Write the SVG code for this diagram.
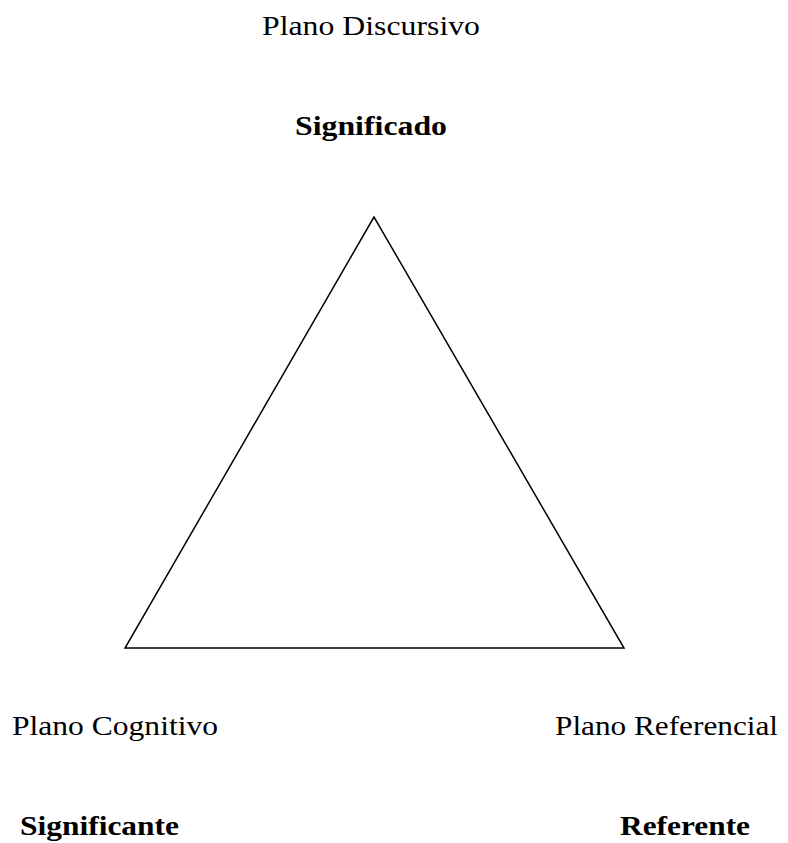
<svg xmlns="http://www.w3.org/2000/svg" width="788" height="843" viewBox="0 0 788 843">
<style>
.t{font-family:"Liberation Serif","Times New Roman",serif;font-size:28px;fill:#000}
.b{font-weight:bold}
.edge{fill:none;stroke:#000;stroke-width:1.5;stroke-linejoin:miter}
</style>
<rect width="788" height="843" fill="#fff"/>
<g id="connectors">
<path class="edge" d="M374,217 L125,648 L624,648 Z"/>
</g>
<g id="plano-discursivo"><text class="t" x="262" y="35" textLength="218" lengthAdjust="spacingAndGlyphs">Plano Discursivo</text></g>
<g id="significado"><text class="t b" x="295" y="135" textLength="152" lengthAdjust="spacingAndGlyphs">Significado</text></g>
<g id="plano-cognitivo"><text class="t" x="12" y="735" textLength="206" lengthAdjust="spacingAndGlyphs">Plano Cognitivo</text></g>
<g id="plano-referencial"><text class="t" x="555" y="735" textLength="223" lengthAdjust="spacingAndGlyphs">Plano Referencial</text></g>
<g id="significante"><text class="t b" x="20" y="835" textLength="159" lengthAdjust="spacingAndGlyphs">Significante</text></g>
<g id="referente"><text class="t b" x="620" y="835" textLength="130" lengthAdjust="spacingAndGlyphs">Referente</text></g>
</svg>
